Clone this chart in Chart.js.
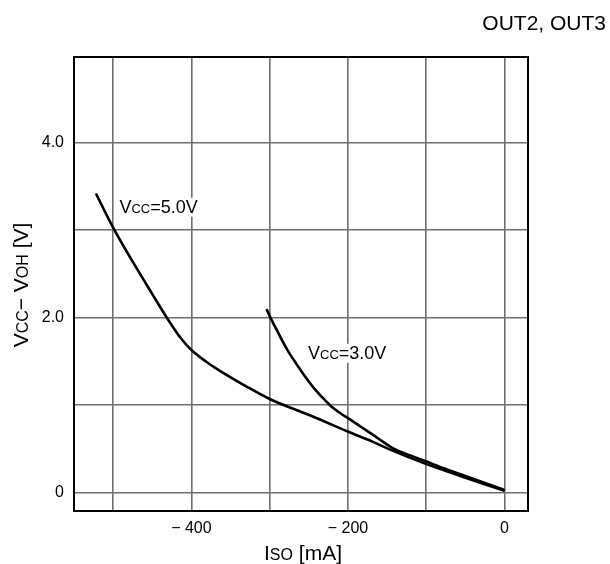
<!DOCTYPE html>
<html><head><meta charset="utf-8">
<script src="https://cdn.jsdelivr.net/npm/chart.js@4/dist/chart.umd.min.js"></script>
<style>html,body{margin:0;padding:0;background:#fff}#wrap{width:610px;height:564px}</style>
</head><body><div id="wrap"><canvas id="c" width="610" height="564"></canvas></div>
<script>
const vcc5I = [-522,-500,-475,-450,-430,-414,-400,-372,-329,-300,-245,-198,-168,-143,-104,-50,0];
const vcc5V = [3.42,3.03,2.64,2.27,1.98,1.77,1.63,1.44,1.21,1.07,0.87,0.69,0.58,0.48,0.34,0.17,0.02];
const vcc3I = [-304,-298,-291,-283,-274,-265,-255,-244,-233,-223,-210,-198,-183,-168,-155,-143,-125,-104,-75,-50,-25,0];
const vcc3V = [2.10,1.98,1.86,1.72,1.58,1.46,1.33,1.20,1.09,1.00,0.91,0.84,0.75,0.66,0.58,0.51,0.44,0.37,0.27,0.19,0.11,0.03];
const xTicks = [-500,-400,-300,-200,-100,0];
const xLabelVals = [-400,-200,0];
const yTicks = [0,1,2,3,4];
const yLabelVals = [0,2,4];
const seriesLabels = [
  {parts:[["V",18],["CC",13],["=5.0V",18]], x:-492, y:3.2},
  {parts:[["V",18],["CC",13],["=3.0V",18]], x:-251, y:1.53}
];
const FONT = '"Liberation Sans", Arial, sans-serif';

function pts(xs, ys){ return xs.map((x,i)=>({x:x, y:ys[i]})); }

function drawParts(ctx, parts, x, y, align){
  let total = 0;
  parts.forEach(p=>{ctx.font = p[1]+'px '+FONT; total += ctx.measureText(p[0]).width;});
  let cx = align==='center' ? x - total/2 : (align==='right' ? x - total : x);
  parts.forEach(p=>{ctx.font = p[1]+'px '+FONT; ctx.fillText(p[0], cx, y); cx += ctx.measureText(p[0]).width;});
  return total;
}

const textPlugin = {
  id:'texts',
  afterDatasetsDraw(chart){
    const ctx = chart.ctx, xs = chart.scales.x, ys = chart.scales.y, a = chart.chartArea;
    ctx.save();
    ctx.strokeStyle = '#000';
    ctx.lineWidth = 2;
    ctx.strokeRect(a.left, a.top, a.right - a.left, a.bottom - a.top);
    ctx.textBaseline = 'alphabetic';
    ctx.textAlign = 'left';
    seriesLabels.forEach(l=>{
      const px = xs.getPixelForValue(l.x), py = ys.getPixelForValue(l.y);
      let total = 0;
      l.parts.forEach(p=>{ctx.font = p[1]+'px '+FONT; total += ctx.measureText(p[0]).width;});
      ctx.fillStyle = '#fff';
      ctx.fillRect(px-2, py-15, total+4, 19);
      ctx.fillStyle = '#000';
      drawParts(ctx, l.parts, px, py, 'left');
    });
    ctx.restore();
  },
  afterDraw(chart){
    const ctx = chart.ctx;
    ctx.save();
    ctx.fillStyle = '#000';
    ctx.textBaseline = 'alphabetic';
    ctx.textAlign = 'left';
    drawParts(ctx, [["OUT2, OUT3",21]], 606, 30, 'right');
    drawParts(ctx, [["I",21],["SO",16],[" [mA]",21]], 303, 560, 'center');
    ctx.translate(28, 285);
    ctx.rotate(-Math.PI/2);
    drawParts(ctx, [["V",21],["CC",16],["− V",21],["OH",16],[" [V]",21]], 0, 0, 'center');
    ctx.restore();
  }
};

new Chart(document.getElementById('c'), {
  type:'scatter',
  data:{datasets:[
    {label:'Vcc=5.0V', data:pts(vcc5I, vcc5V), showLine:true, borderColor:'#000', borderWidth:2.6, pointRadius:0, cubicInterpolationMode:'monotone', fill:false},
    {label:'Vcc=3.0V', data:pts(vcc3I, vcc3V), showLine:true, borderColor:'#000', borderWidth:2.6, pointRadius:0, cubicInterpolationMode:'monotone', fill:false}
  ]},
  options:{
    responsive:false, animation:false, devicePixelRatio:1,
    layout:{padding:{top:57, right:82, left:0, bottom:0}},
    plugins:{legend:{display:false}, tooltip:{enabled:false}},
    scales:{
      x:{type:'linear', min:-550, max:30,
        afterBuildTicks(s){ s.ticks = xTicks.map(v=>({value:v})); },
        afterFit(s){ s.height = 53; },
        grid:{color:'#6e6e6e', lineWidth:1.6, drawTicks:false},
        border:{color:'#000', width:2},
        ticks:{color:'#000', padding:8, maxRotation:0, autoSkip:false, font:{family:FONT, size:16},
          callback(v){ if(!xLabelVals.includes(v)) return ''; return v<0 ? '− '+Math.abs(v) : String(v); }}
      },
      y:{type:'linear', min:-0.21, max:4.98,
        afterBuildTicks(s){ s.ticks = yTicks.map(v=>({value:v})); },
        afterFit(s){ s.width = 74; },
        grid:{color:'#6e6e6e', lineWidth:1.6, drawTicks:false},
        border:{color:'#000', width:2},
        ticks:{color:'#000', padding:10, autoSkip:false, font:{family:FONT, size:16},
          callback(v){ if(!yLabelVals.includes(v)) return ''; return v===0 ? '0' : v.toFixed(1); }}
      }
    }
  },
  plugins:[textPlugin]
});
</script></body></html>
